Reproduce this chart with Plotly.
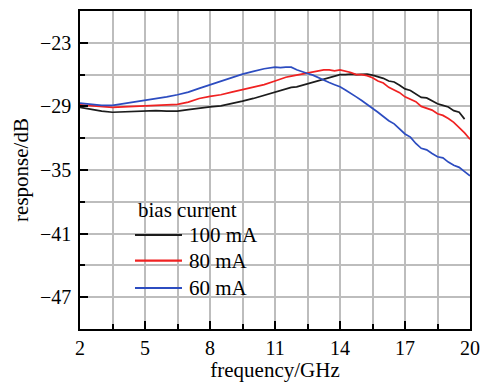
import plotly.graph_objects as go

# Frequency response of the laser at three bias currents
freq = [2.0, 2.5, 3.0, 3.5, 4.0, 4.5, 5.0, 5.5, 6.0, 6.5, 7.0, 7.5, 8.0, 8.5,
        9.0, 9.5, 10.0, 10.5, 11.0, 11.25, 11.5, 11.75, 12.0, 12.25, 12.5,
        12.75, 13.0, 13.25, 13.5, 13.75, 14.0, 14.25, 14.5, 14.75, 15.0,
        15.25, 15.5, 15.75, 16.0, 16.25, 16.5, 16.75, 17.0, 17.25, 17.5,
        17.75, 18.0, 18.25, 18.5, 18.75, 19.0, 19.25, 19.5, 19.75, 20.0]

resp_100ma = [-29.1, -29.3, -29.45, -29.55, -29.5, -29.45, -29.4, -29.4, -29.45,
              -29.45, -29.3, -29.15, -29.05, -28.95, -28.75, -28.5, -28.25,
              -27.95, -27.6, -27.5, -27.35, -27.2, -27.15, -27.0, -26.85,
              -26.75, -26.6, -26.45, -26.3, -26.15, -26.0, -26.0, -25.95,
              -26.0, -25.95, -25.95, -26.05, -26.2, -26.35, -26.6, -26.7,
              -27.0, -27.35, -27.5, -27.8, -28.15, -28.2, -28.45, -28.75,
              -28.9, -29.05, -29.4, -29.55, -30.2]

resp_80ma = [-28.85, -28.95, -29.05, -29.1, -29.05, -29.0, -29.0, -28.95, -28.9,
             -28.8, -28.6, -28.25, -28.05, -27.9, -27.65, -27.4, -27.2, -26.95,
             -26.6, -26.4, -26.25, -26.15, -26.05, -25.95, -25.85, -25.75,
             -25.6, -25.55, -25.55, -25.65, -25.55, -25.65, -25.8, -26.0,
             -26.0, -26.1, -26.3, -26.6, -26.8, -27.2, -27.45, -27.7, -28.1,
             -28.3, -28.55, -29.0, -29.15, -29.35, -29.7, -29.85, -30.15,
             -30.5, -31.0, -31.5, -32.1]

resp_60ma = [-28.7, -28.8, -28.9, -28.9, -28.75, -28.6, -28.45, -28.3, -28.1,
             -27.9, -27.65, -27.3, -26.95, -26.6, -26.3, -25.95, -25.7, -25.45,
             -25.3, -25.35, -25.3, -25.3, -25.55, -25.75, -25.9, -26.05, -26.3,
             -26.5, -26.75, -26.95, -27.15, -27.45, -27.75, -28.1, -28.45,
             -28.8, -29.2, -29.55, -29.95, -30.35, -30.65, -31.15, -31.6,
             -31.9, -32.5, -32.95, -33.1, -33.45, -33.75, -33.85, -34.25,
             -34.55, -34.75, -35.15, -35.55]

series_names = ["100 mA", "80 mA", "60 mA"]
series_values = [resp_100ma, resp_80ma, resp_60ma]
series_colors = ["#1c1c1c", "#f02222", "#2c4cc0"]
legend_title = "bias current"

FONT = "Liberation Serif, Times New Roman, serif"
FS = 21
TICK_FS = 20

fig = go.Figure()
for name, vals, col in zip(series_names, series_values, series_colors):
    fig.add_trace(go.Scatter(
        x=freq[:len(vals)], y=vals, mode="lines", name=name,
        line=dict(color=col, width=1.7), showlegend=False,
    ))

# Legend panel: white box over the grid, sample lines and labels
shapes = [dict(type="rect", xref="paper", yref="paper",
               x0=0.097, x1=0.487, y0=0.075, y1=0.453,
               fillcolor="white", line=dict(width=0), layer="between")]
annotations = [dict(text=legend_title, xref="paper", yref="paper",
                    x=0.143, y=0.374, xanchor="left", yanchor="middle",
                    showarrow=False, font=dict(family=FONT, size=FS, color="black"))]
row_y = [0.2956, 0.2148, 0.1289]
for name, col, yy in zip(series_names, series_colors, row_y):
    shapes.append(dict(type="line", xref="paper", yref="paper",
                       x0=0.141, x1=0.2615, y0=yy, y1=yy,
                       line=dict(color=col, width=2.2), layer="above"))
    annotations.append(dict(text=name, xref="paper", yref="paper",
                            x=0.274, y=yy, xanchor="left", yanchor="middle",
                            showarrow=False,
                            font=dict(family=FONT, size=FS, color="black")))

axis_common = dict(
    showline=True, linecolor="black", linewidth=1.5, mirror=True,
    showgrid=True, gridcolor="#bdbdbd", gridwidth=1.5,
    ticks="inside", ticklen=8, tickwidth=1.5, tickcolor="black",
    tickfont=dict(family=FONT, size=TICK_FS, color="black"),
    zeroline=False, automargin=False,
)

fig.update_layout(
    width=482, height=382,
    margin=dict(l=80, r=12, t=11, b=53),
    paper_bgcolor="white", plot_bgcolor="white",
    font=dict(family=FONT, size=FS, color="black"),
    shapes=shapes, annotations=annotations,
    xaxis=dict(
        range=[2, 20], tick0=2, dtick=3, ticklabelstandoff=0,
        minor=dict(dtick=1.5, tick0=2, showgrid=True, gridcolor="#bdbdbd",
                   gridwidth=1.5, ticks="inside", ticklen=5,
                   tickcolor="black", tickwidth=1.5),
        title=dict(text="frequency/GHz", standoff=6,
                   font=dict(family=FONT, size=FS, color="black")),
        **axis_common,
    ),
    yaxis=dict(
        range=[-50, -20], tick0=-23, dtick=6, ticklabelstandoff=3,
        minor=dict(dtick=3, tick0=-23, showgrid=True, gridcolor="#bdbdbd",
                   gridwidth=1.5, ticks="inside", ticklen=5,
                   tickcolor="black", tickwidth=1.5),
        title=dict(text="response/dB", standoff=6,
                   font=dict(family=FONT, size=FS, color="black")),
        **axis_common,
    ),
)

fig.write_html("out.html")
